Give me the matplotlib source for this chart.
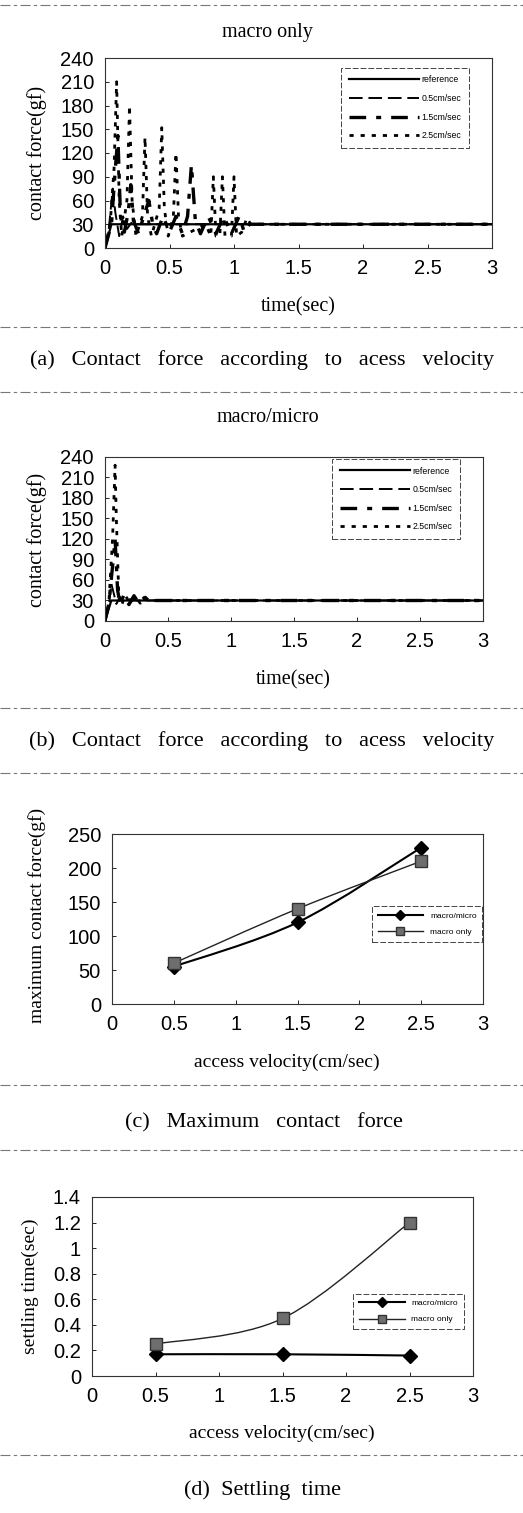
import numpy as np
import matplotlib
matplotlib.use("Agg")
from matplotlib import pyplot as plt
from matplotlib.path import Path
from matplotlib.patches import PathPatch
from matplotlib.lines import Line2D
from matplotlib.ticker import FuncFormatter

W, H = 523, 1513
SERIF = ["Liberation Serif", "DejaVu Serif"]
SANS = ["Liberation Sans", "DejaVu Sans"]

# ---- contact force vs time, reference profile (same in both runs)
ref_t = [0.0, 0.02, 0.05, 3.0]
ref_f = [0, 12, 30, 30]

# ---- macro only
mo_05_t = [0.0, 0.03, 0.06, 0.08, 0.11, 0.14, 0.17, 0.21, 0.25, 3.0]
mo_05_f = [0, 25, 75, 45, 15, 40, 24, 33, 30, 30]

mo_15_t = [0.0, 0.05, 0.08, 0.10, 0.12, 0.15, 0.18, 0.20, 0.22, 0.26, 0.30, 0.34,
           0.37, 0.40, 0.45, 0.50, 0.55, 0.60, 0.64, 0.67, 0.70, 0.74, 0.80, 0.86,
           0.92, 0.98, 1.04, 1.08, 1.12, 3.0]
mo_15_f = [0, 30, 100, 142, 40, 20, 45, 80, 35, 18, 40, 60, 30, 18, 40, 20, 40, 18,
           40, 105, 35, 18, 40, 18, 40, 18, 40, 20, 30, 30]

mo_25_t = [0.0, 0.04, 0.07, 0.09, 0.11, 0.13, 0.17, 0.19, 0.21, 0.24, 0.29, 0.31,
           0.33, 0.36, 0.42, 0.44, 0.46, 0.49, 0.53, 0.55, 0.57, 0.60, 0.78, 0.82,
           0.84, 0.86, 0.89, 0.91, 0.93, 0.98, 1.00, 1.02, 1.06, 1.10, 1.13, 3.0]
mo_25_f = [0, 30, 100, 210, 60, 15, 60, 180, 60, 15, 40, 140, 40, 15, 50, 152, 50,
           15, 40, 120, 40, 15, 30, 15, 90, 15, 15, 90, 15, 15, 90, 15, 20, 38, 30, 30]

# ---- macro/micro
mm_05_t = [0.0, 0.03, 0.05, 0.07, 0.09, 0.12, 0.15, 0.20, 0.25, 3.0]
mm_05_f = [0, 20, 55, 40, 25, 35, 27, 32, 30, 30]

mm_15_t = [0.0, 0.03, 0.06, 0.08, 0.10, 0.12, 0.15, 0.19, 0.23, 0.27, 0.31, 0.35, 0.40, 3.0]
mm_15_f = [0, 25, 80, 120, 45, 25, 38, 24, 37, 26, 34, 28, 30, 30]

mm_25_t = [0.0, 0.03, 0.06, 0.08, 0.09, 0.11, 0.13, 0.16, 0.20, 0.24, 0.28, 0.32, 0.36, 0.40, 3.0]
mm_25_f = [0, 25, 120, 228, 150, 35, 22, 38, 25, 36, 26, 35, 28, 30, 30]

speed_labels = ["reference", "0.5cm/sec", "1.5cm/sec", "2.5cm/sec"]

# ---- summary vs access velocity
velocity = [0.5, 1.5, 2.5]
max_force_mm = [55, 120, 230]
max_force_mo = [60, 140, 210]
settle_mm = [0.17, 0.17, 0.16]
settle_mo = [0.25, 0.45, 1.2]
summary_labels = ["macro/micro", "macro only"]

fig = plt.figure(figsize=(W / 100, H / 100), dpi=100)


def px_axes(left, top, right, bottom):
    return fig.add_axes([left / W, 1 - bottom / H, (right - left) / W, (bottom - top) / H])


def px_text(x, y, s, **kw):
    fig.text(x / W, 1 - y / H, s, ha="center", va="center", **kw)


def separator(y, x0=0, x1=W):
    fig.add_artist(Line2D([x0 / W, x1 / W], [1 - y / H, 1 - y / H], transform=fig.transFigure,
                          color="#777777", lw=0.8, dashes=(9, 3, 3, 3)))


def smooth_path(xs, ys):
    # Catmull-Rom through the points, written as cubic Bezier segments
    pts = np.column_stack([xs, ys]).astype(float)
    ext = np.vstack([pts[0], pts, pts[-1]])
    verts, codes = [pts[0]], [Path.MOVETO]
    for i in range(len(pts) - 1):
        p0, p1, p2, p3 = ext[i], ext[i + 1], ext[i + 2], ext[i + 3]
        verts += [p1 + (p2 - p0) / 6, p2 - (p3 - p1) / 6, p2]
        codes += [Path.CURVE4] * 3
    return Path(verts, codes)


def style_axes(ax):
    for s in ax.spines.values():
        s.set_linewidth(0.8)
        s.set_color("#333333")
    ax.tick_params(direction="in", length=3, width=0.6, labelsize=14.5, pad=8)
    for lab in ax.get_xticklabels() + ax.get_yticklabels():
        lab.set_family(SANS)
    fmt = FuncFormatter(lambda v, p: "%g" % v)
    ax.xaxis.set_major_formatter(fmt)
    ax.yaxis.set_major_formatter(fmt)


def force_panel(box, series, legend_anchor):
    ax = px_axes(*box)
    ax.plot(ref_t, ref_f, color="black", lw=1.6, label=speed_labels[0])
    (t05, f05), (t15, f15), (t25, f25) = series
    ax.plot(t05, f05, color="black", lw=1.4, dashes=(7, 3), label=speed_labels[1])
    ax.plot(t15, f15, color="black", lw=2.4, dashes=(5, 3, 1.5, 3), label=speed_labels[2])
    ax.plot(t25, f25, color="black", lw=2.0, dashes=(1.5, 2.5), label=speed_labels[3])
    ax.set_xlim(0, 3)
    ax.set_ylim(0, 240)
    ax.set_xticks(np.arange(0, 3.01, 0.5))
    ax.set_yticks(np.arange(0, 241, 30))
    style_axes(ax)
    leg = ax.legend(loc="upper left", bbox_to_anchor=legend_anchor, borderaxespad=0,
                    prop={"family": SANS, "size": 6.3}, handlelength=8, labelspacing=1.1,
                    fancybox=False, edgecolor="#444444", framealpha=1, borderpad=0.9,
                    handletextpad=0.3)
    leg.get_frame().set_linewidth(0.7)
    leg.get_frame().set_linestyle((0, (6, 2)))
    return ax


def summary_panel(box, mm, mo, ylim, yticks, legend_anchor):
    ax = px_axes(*box)
    ax.add_patch(PathPatch(smooth_path(velocity, mm), fill=False, lw=1.5, edgecolor="black"))
    ax.add_patch(PathPatch(smooth_path(velocity, mo), fill=False, lw=1.0, edgecolor="#222222"))
    ax.plot(velocity, mm, ls="none", marker="D", ms=7, color="black")
    ax.plot(velocity, mo, ls="none", marker="s", ms=8, mfc="#6e6e6e", mec="#333333", mew=1)
    ax.set_xlim(0, 3)
    ax.set_ylim(*ylim)
    ax.set_xticks(np.arange(0, 3.01, 0.5))
    ax.set_yticks(yticks)
    style_axes(ax)
    handles = [Line2D([], [], color="black", lw=1.5, marker="D", ms=5),
               Line2D([], [], color="#222222", lw=1.0, marker="s", ms=6, mfc="#6e6e6e", mec="#333333")]
    leg = ax.legend(handles, summary_labels, loc="upper left", bbox_to_anchor=legend_anchor,
                    borderaxespad=0, prop={"family": SANS, "size": 6}, handlelength=5.5,
                    labelspacing=1.0, fancybox=False, edgecolor="#444444", framealpha=1,
                    borderpad=0.7, handletextpad=0.8)
    leg.get_frame().set_linewidth(0.7)
    leg.get_frame().set_linestyle((0, (6, 2)))
    return ax


# (a) macro only
ax_a = force_panel((105, 58, 492, 248),
                   [(mo_05_t, mo_05_f), (mo_15_t, mo_15_f), (mo_25_t, mo_25_f)], (0.61, 0.95))
px_text(267, 32, "macro only", family=SERIF, fontsize=14.5)
px_text(37, 153, "contact force(gf)", family=SERIF, fontsize=14.5, rotation=90)
px_text(298, 307, "time(sec)", family=SERIF, fontsize=14.5)
px_text(262, 360, "(a)   Contact   force   according   to   acess   velocity", family=SERIF, fontsize=16)

# (b) macro/micro
ax_b = force_panel((105, 457, 483, 621),
                   [(mm_05_t, mm_05_f), (mm_15_t, mm_15_f), (mm_25_t, mm_25_f)], (0.60, 0.99))
px_text(268, 417, "macro/micro", family=SERIF, fontsize=14.5)
px_text(37, 540, "contact force(gf)", family=SERIF, fontsize=14.5, rotation=90)
px_text(293, 680, "time(sec)", family=SERIF, fontsize=14.5)
px_text(262, 741, "(b)   Contact   force   according   to   acess   velocity", family=SERIF, fontsize=16)

# (c) maximum contact force
ax_c = summary_panel((112, 834, 483, 1004), max_force_mm, max_force_mo,
                     (0, 250), np.arange(0, 251, 50), (0.70, 0.575))
px_text(37, 915, "maximum contact force(gf)", family=SERIF, fontsize=14, rotation=90)
px_text(287, 1062, "access velocity(cm/sec)", family=SERIF, fontsize=14)
px_text(264, 1123, "(c)   Maximum   contact   force", family=SERIF, fontsize=16)

# (d) settling time
ax_d = summary_panel((92, 1197, 473, 1376), settle_mm, settle_mo,
                     (0, 1.4), np.arange(0, 1.41, 0.2), (0.685, 0.46))
px_text(30, 1286, "settling time(sec)", family=SERIF, fontsize=14, rotation=90)
px_text(282, 1433, "access velocity(cm/sec)", family=SERIF, fontsize=14)
px_text(262, 1490, "(d)  Settling  time", family=SERIF, fontsize=16)

for y in [5, 327, 392, 708, 773, 1085, 1150, 1455]:
    separator(y)

fig.savefig("out.png", dpi=100)
